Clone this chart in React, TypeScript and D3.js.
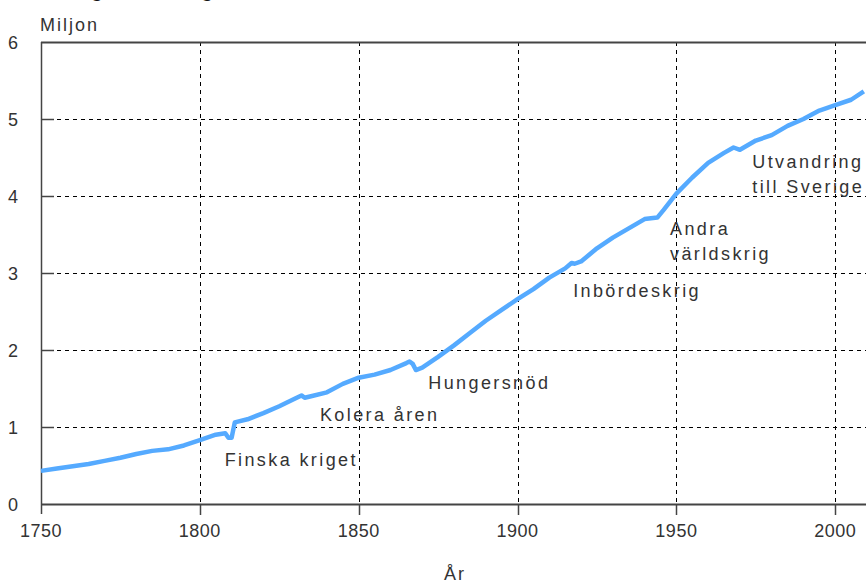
import React, { useEffect, useRef } from 'react';
import * as d3 from 'd3';

// Finland population, millions
const years = [
  1750, 1755, 1760, 1765, 1770, 1775, 1780, 1785, 1790, 1795, 1800, 1805, 1808, 1809, 1810, 1811,
  1815, 1820, 1825, 1830, 1832, 1833, 1835, 1840, 1845, 1850, 1855, 1860, 1865, 1866, 1867, 1868,
  1870, 1875, 1880, 1885, 1890, 1895, 1900, 1905, 1910, 1915, 1917, 1918, 1920, 1925, 1930, 1935,
  1940, 1942, 1944, 1946, 1950, 1955, 1960, 1965, 1968, 1970, 1975, 1980, 1985, 1990, 1995, 2000,
  2005, 2009
];
const population = [
  0.43, 0.46, 0.49, 0.52, 0.56, 0.60, 0.65, 0.69, 0.71, 0.76, 0.83, 0.90, 0.92, 0.86, 0.86, 1.06,
  1.10, 1.18, 1.27, 1.37, 1.41, 1.38, 1.40, 1.45, 1.56, 1.64, 1.68, 1.74, 1.83, 1.85, 1.82, 1.74,
  1.77, 1.91, 2.06, 2.22, 2.38, 2.52, 2.66, 2.79, 2.94, 3.06, 3.13, 3.12, 3.15, 3.32, 3.46, 3.58,
  3.70, 3.71, 3.72, 3.82, 4.03, 4.24, 4.43, 4.56, 4.63, 4.60, 4.72, 4.79, 4.91, 5.00, 5.11, 5.18,
  5.25, 5.36
];

const yTicks = [0, 1, 2, 3, 4, 5, 6];
const xTicks = [1750, 1800, 1850, 1900, 1950, 2000];

const notes = [
  { text: ['Finska kriget'], year: 1807.8, value: 0.5 },
  { text: ['Kolera åren'], year: 1837.8, value: 1.08 },
  { text: ['Hungersnöd'], year: 1871.9, value: 1.49 },
  { text: ['Inbördeskrig'], year: 1917.5, value: 2.69 },
  { text: ['Andra', 'världskrig'], year: 1948, value: 3.49 },
  { text: ['Utvandring', 'till Sverige'], year: 1973.9, value: 4.36 }
];

export default function App() {
  const ref = useRef<SVGSVGElement>(null);

  useEffect(() => {
    const svg = d3.select(ref.current);
    svg.selectAll('*').remove();

    const left = 41;
    const top = 42;
    const bottom = 504;
    const font = '"Liberation Sans", Arial, sans-serif';
    const ink = '#333';

    const x = d3.scaleLinear().domain([1750, 2010]).range([left, 867]);
    const y = d3.scaleLinear().domain([0, 6]).range([bottom, top]);

    // title, cut off above the picture
    svg
      .append('text')
      .attr('x', 0)
      .attr('y', -3)
      .style('font', `bold 20px ${font}`)
      .style('fill', '#111')
      .text('Befolkningsutvecklingen i Finland 1750–2008');

    const g = svg.append('g');

    // grid
    g.selectAll('.hgrid')
      .data(yTicks.filter(d => d > 0 && d < 6))
      .enter()
      .append('line')
      .attr('x1', left)
      .attr('x2', 866)
      .attr('y1', d => Math.round(y(d)) + 0.5)
      .attr('y2', d => Math.round(y(d)) + 0.5)
      .style('stroke', '#000')
      .style('stroke-dasharray', '4,4');

    g.selectAll('.vgrid')
      .data(xTicks.filter(d => d > 1750))
      .enter()
      .append('line')
      .attr('x1', d => Math.round(x(d)) + 0.5)
      .attr('x2', d => Math.round(x(d)) + 0.5)
      .attr('y1', top)
      .attr('y2', bottom)
      .style('stroke', '#000')
      .style('stroke-dasharray', '4,4');

    // frame: top line, left axis, bottom axis
    const axisColor = '#444';
    g.append('line')
      .attr('x1', left)
      .attr('x2', 866)
      .attr('y1', top + 0.5)
      .attr('y2', top + 0.5)
      .style('stroke', axisColor)
      .style('stroke-width', 2);
    g.append('line')
      .attr('x1', left + 0.5)
      .attr('x2', left + 0.5)
      .attr('y1', top)
      .attr('y2', bottom + 10)
      .style('stroke', axisColor)
      .style('stroke-width', 1.5);
    g.append('line')
      .attr('x1', left)
      .attr('x2', 866)
      .attr('y1', bottom + 0.5)
      .attr('y2', bottom + 0.5)
      .style('stroke', axisColor)
      .style('stroke-width', 2);

    // y ticks (inside) and labels
    g.selectAll('.ytick')
      .data(yTicks.filter(d => d > 0 && d < 6))
      .enter()
      .append('line')
      .attr('x1', left)
      .attr('x2', left + 13)
      .attr('y1', d => Math.round(y(d)) + 0.5)
      .attr('y2', d => Math.round(y(d)) + 0.5)
      .style('stroke', axisColor)
      .style('stroke-width', 1.5);

    g.selectAll('.ylabel')
      .data(yTicks)
      .enter()
      .append('text')
      .attr('x', 13)
      .attr('y', d => y(d) + 7)
      .attr('text-anchor', 'middle')
      .style('font', `18px ${font}`)
      .style('fill', ink)
      .text(d => d);

    // x ticks (below) and labels
    g.selectAll('.xtick')
      .data(xTicks.filter(d => d > 1750))
      .enter()
      .append('line')
      .attr('x1', d => Math.round(x(d)) + 0.5)
      .attr('x2', d => Math.round(x(d)) + 0.5)
      .attr('y1', bottom)
      .attr('y2', bottom + 11)
      .style('stroke', axisColor)
      .style('stroke-width', 1.5);

    g.selectAll('.xlabel')
      .data(xTicks)
      .enter()
      .append('text')
      .attr('x', d => x(d))
      .attr('y', 537)
      .attr('text-anchor', 'middle')
      .style('font', `18px ${font}`)
      .style('letter-spacing', '0.5px')
      .style('fill', ink)
      .text(d => d);

    g.append('text')
      .attr('x', 40)
      .attr('y', 31)
      .style('font', `18px ${font}`)
      .style('letter-spacing', '2px')
      .style('fill', ink)
      .text('Miljon');

    g.append('text')
      .attr('x', 455)
      .attr('y', 580)
      .attr('text-anchor', 'middle')
      .style('font', `18px ${font}`)
      .style('letter-spacing', '2px')
      .style('fill', ink)
      .text('År');

    // population line
    const line = d3
      .line<number>()
      .x((_, i) => x(years[i]))
      .y(d => y(d));

    g.append('path')
      .datum(population)
      .attr('d', line)
      .style('fill', 'none')
      .style('stroke', '#55aaff')
      .style('stroke-width', 4.5)
      .style('stroke-linejoin', 'round');

    // annotations
    notes.forEach(n => {
      const t = g
        .append('text')
        .attr('x', x(n.year))
        .attr('y', y(n.value))
        .style('font', `18px ${font}`)
        .style('letter-spacing', '2.4px')
        .style('fill', ink);
      n.text.forEach((s, i) => {
        t.append('tspan')
          .attr('x', x(n.year))
          .attr('dy', i === 0 ? 0 : 25)
          .text(s);
      });
    });
  }, []);

  return (
    <svg
      ref={ref}
      width={866}
      height={585}
      style={{ position: 'absolute', left: 0, top: 0, background: '#fff' }}
    />
  );
}
